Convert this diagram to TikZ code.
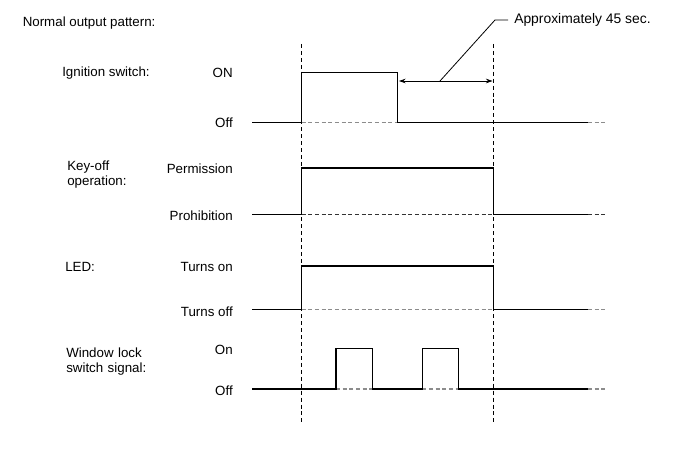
\documentclass[tikz,border=0pt]{standalone}
\usepackage{fontspec}
\setmainfont{Liberation Sans}
\usetikzlibrary{arrows.meta}
\begin{document}
\begin{tikzpicture}[x=0.75pt,y=-0.75pt,
  lbl/.style={anchor=base west,inner sep=0pt,font=\fontsize{10}{12.75}\selectfont,align=left},
  lvl/.style={anchor=base east,inner sep=0pt,font=\fontsize{10}{12.75}\selectfont},
  sig/.style={draw=black,line width=0.85pt,line join=miter},
  base/.style={draw=black!45,line width=0.8pt,dash pattern=on 3pt off 2pt},
  tline/.style={draw=black,line width=0.8pt,dash pattern=on 3pt off 2.2pt},
  dim/.style={draw=black,line width=0.6pt}]
\useasboundingbox (0,0) rectangle (691,467);
% titles and labels
\node[lbl] (title) at (22.5,26.5) {Normal output pattern:};
\node[lbl] (ign) at (62,76) {Ignition switch:};
\node[lbl,text width=80] (key) at (67,170) {Key-off\\[-1pt]operation:};
\node[lbl] (led) at (65,271) {LED:};
\node[lbl,text width=100] (win) at (66,357) {Window lock\\[-1pt]switch signal:};
% level labels
\node[lvl] (on1) at (233,78) {ON};
\node[lvl] (off1) at (233,127) {Off};
\node[lvl] (perm) at (233,173) {Permission};
\node[lvl] (proh) at (233,220.5) {Prohibition};
\node[lvl] (ton) at (233,271) {Turns on};
\node[lvl] (toff) at (233,316) {Turns off};
\node[lvl] (on2) at (233,354) {On};
\node[lvl] (off2) at (233,395.5) {Off};
% timing markers
\coordinate (t1a) at (301.5,44);
\coordinate (t1b) at (301.5,425);
\coordinate (t2a) at (493.5,44);
\coordinate (t2b) at (493.5,425);
\draw[tline] (t1a) -- (t1b);
\draw[tline] (t2a) -- (t2b);
% ignition
\draw[base] (301.5,122.5) -- (397.3,122.5);
\draw[base] (588,122.5) -- (606,122.5);
\draw[sig] (252,122.5) -- (301.5,122.5) -- (301.5,72.7) -- (397.3,72.7) -- (397.3,122.5) -- (588,122.5);
% duration
\coordinate (da) at (399,81);
\coordinate (db) at (492.5,81);
\coordinate (dl) at (440,81);
\coordinate (dk) at (495,20);
\coordinate (de) at (508,20);
\draw[dim,{Stealth[length=5pt,width=3.5pt]}-{Stealth[length=5pt,width=3.5pt]}] (da) -- (db);
\draw[dim] (dl) -- (dk) -- (de);
\node[anchor=west,inner sep=0pt,font=\fontsize{10.4}{13}\selectfont] (approx) at (514,20) {Approximately 45 sec.};
% key-off
\draw[base,draw=black!80] (301.5,214.7) -- (493.5,214.7);
\draw[base,draw=black!80] (588,214.7) -- (606,214.7);
\draw[sig] (252,214.7) -- (301.5,214.7) -- (301.5,168) -- (493.5,168) -- (493.5,214.7) -- (588,214.7);
% LED
\draw[base] (301.5,309.7) -- (493.5,309.7);
\draw[base] (588,309.7) -- (606,309.7);
\draw[sig] (252,309.7) -- (301.5,309.7) -- (301.5,266) -- (493.5,266) -- (493.5,309.7) -- (588,309.7);
% window lock
\draw[base] (336,389) -- (372.7,389);
\draw[base] (422.3,389) -- (458.7,389);
\draw[base] (588,389) -- (606,389);
\draw[sig] (252,389) -- (336,389) -- (336,348.5) -- (372.7,348.5) -- (372.7,389) -- (422.3,389) -- (422.3,348.5) -- (458.7,348.5) -- (458.7,389) -- (588,389);
\end{tikzpicture}
\end{document}
